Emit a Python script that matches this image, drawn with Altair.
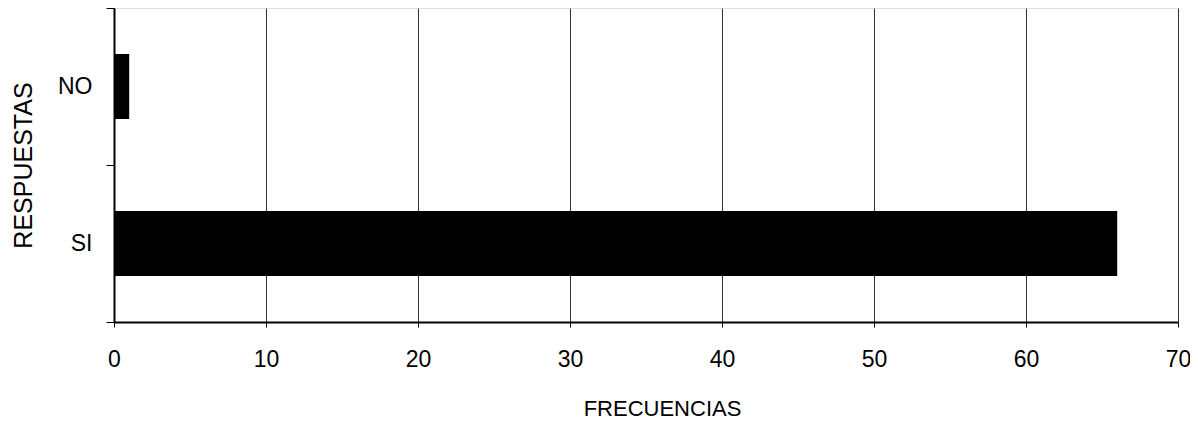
import altair as alt
import pandas as pd

categories = ["NO", "SI"]
values = [1, 66]
x_ticks = [0, 10, 20, 30, 40, 50, 60, 70]

df = pd.DataFrame({"respuesta": categories, "frecuencia": values})

FONT = "Liberation Sans"

chart = alt.Chart(df).mark_bar(color="black", height=65).encode(
    x=alt.X(
        "frecuencia:Q",
        scale=alt.Scale(domain=[0, 70], nice=False),
        axis=alt.Axis(
            values=x_ticks,
            title="FRECUENCIAS",
            grid=True,
            gridColor="#333333",
            gridWidth=1,
            domain=True,
            domainColor="black",
            domainWidth=2,
            ticks=True,
            tickColor="black",
            tickSize=5,
            labelFont=FONT,
            labelFontSize=23,
            labelColor="black",
            labelPadding=21,
            labelFlush=False,
            titleFont=FONT,
            titleFontSize=22,
            titleFontWeight="normal",
            titleColor="black",
            titleX=548,
            titleY=86,
            titleBaseline="middle",
            titleAlign="center",
        ),
    ),
    y=alt.Y(
        "respuesta:N",
        sort=categories,
        scale=alt.Scale(paddingInner=0, paddingOuter=0),
        axis=alt.Axis(
            title="RESPUESTAS",
            grid=False,
            domain=True,
            domainColor="black",
            domainWidth=2,
            ticks=True,
            tickBand="extent",
            tickColor="black",
            tickSize=8,
            labelFont=FONT,
            labelFontSize=23,
            labelColor="black",
            labelPadding=14,
            labelAlign="right",
            titleFont=FONT,
            titleFontSize=25,
            titleFontWeight="normal",
            titleColor="black",
            titleAngle=-90,
            titleX=-91,
            titleY=157,
            titleBaseline="middle",
            titleAlign="center",
        ),
    ),
).properties(
    width=1064,
    height=314,
    autosize=alt.AutoSizeParams(type="none"),
    padding={"left": 106, "top": 0, "right": 12, "bottom": 100},
).configure_view(
    stroke="black",
    strokeWidth=2,
).configure(
    background="white",
)

chart.save("out.html", embed_options={"renderer": "svg", "actions": False})
